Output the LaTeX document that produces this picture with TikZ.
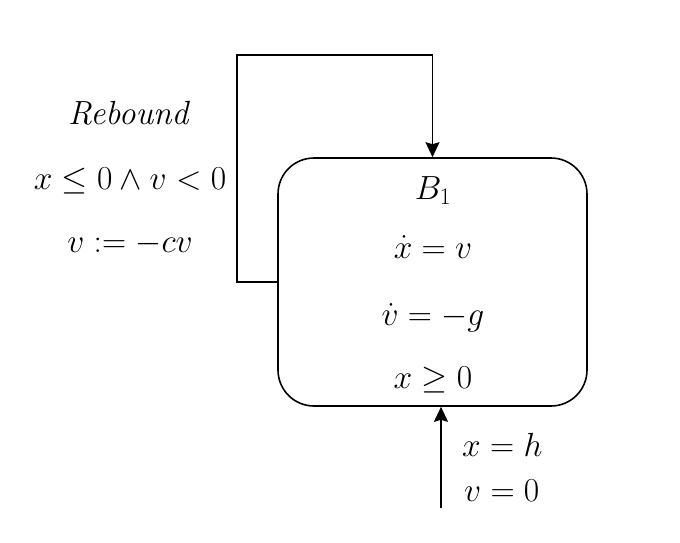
\RequirePackage{fix-cm}
\documentclass[tikz,border=0pt]{standalone}
\usetikzlibrary{arrows.meta}
\begin{document}
\begin{tikzpicture}[x=1pt,y=-1pt,
  every node/.style={font=\fontsize{33.5}{40}\selectfont, inner sep=0pt},
  loc/.style={draw, line width=1.6pt, rounded corners=36pt, minimum width=309pt, minimum height=248pt},
  edge/.style={line width=1.6pt},
  arr/.style={edge, -{Stealth[length=15pt,width=14pt,inset=2pt]}},
  lbl/.style={anchor=base}]
\useasboundingbox (0,0) rectangle (680,543);
\node[loc] (b1) at (432.5,282) {};
\node[lbl] (name) at (433,199) {$B_1$};
\node[lbl] (f1) at (433,258) {$\dot{x} = v$};
\node[lbl] (f2) at (433,325) {$\dot{v} = -g$};
\node[lbl] (inv) at (433,388) {$x \geq 0$};
\node[lbl] (rb) at (130,124) {$\mathit{Rebound}$};
\node[lbl] (guard) at (130,189) {$x \leq 0 \land v < 0$};
\node[lbl] (reset) at (130,252) {$v := -cv$};
\coordinate (turn) at (237,282);
\coordinate (top) at (237,55);
\draw[arr] (b1.west) -- (turn) -- (top) -| (b1.north);
\coordinate (init) at (441,508);
\draw[arr] (init) -- (init |- b1.south);
\node[anchor=base west] (i1) at (462,456) {$x = h$};
\node[anchor=base west] (i2) at (464,501) {$v = 0$};
\end{tikzpicture}
\end{document}
